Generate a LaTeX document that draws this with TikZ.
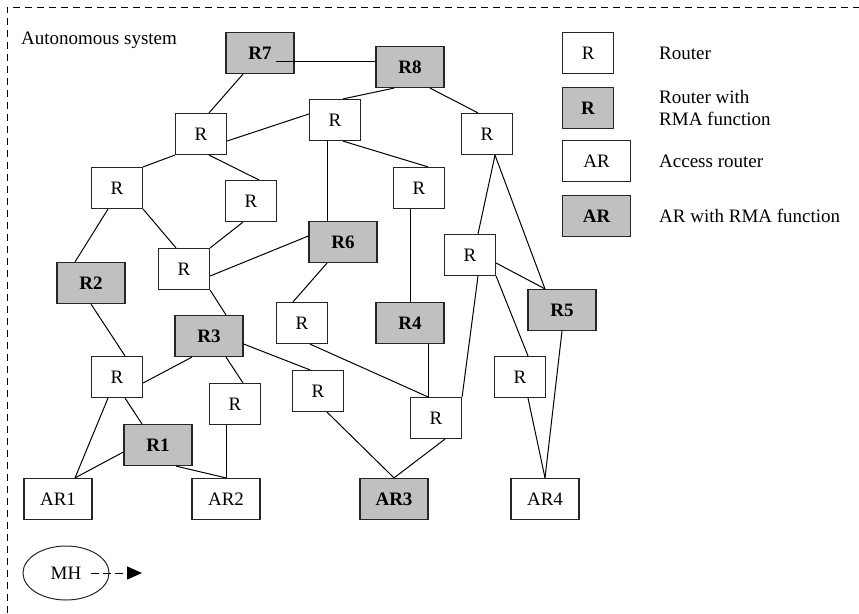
\documentclass[tikz,border=0pt]{standalone}
\usepackage{fontspec}
\setmainfont{Liberation Serif}
\usetikzlibrary{arrows.meta,shapes.geometric}
\definecolor{rmagray}{RGB}{192,192,192}
\tikzset{
  rbox/.style={draw=black!85, line width=1.2pt, fill=white, inner sep=0pt,
    minimum width=51pt, minimum height=41pt},
  rmabox/.style={rbox, fill=rmagray, minimum width=68pt, font=\bfseries},
  arbox/.style={rbox, minimum width=68pt},
  lrmabox/.style={rmabox, minimum width=51pt},
  link/.style={line width=1pt},
}
\begin{document}
\fontsize{19}{22}\selectfont
\begin{tikzpicture}[x=1pt, y=-1pt]
    \useasboundingbox (0,0) rectangle (859,613);
    % Border of the autonomous system
    \draw[dash pattern=on 7pt off 5pt, line width=0.8pt] (7,613) -- (7,7) -- (859,7);
    \node[anchor=west, inner sep=0pt] (title) at (21,40) {Autonomous system};
    % Routers with RMA function
    \node[rmabox] (r7) at (260,53) {R7};
    \node[rmabox] (r8) at (410,67) {R8};
    \node[rmabox] (r6) at (343,242) {R6};
    \node[rmabox] (r2) at (91,283) {R2};
    \node[rmabox] (r5) at (562,310) {R5};
    \node[rmabox] (r3) at (209,336) {R3};
    \node[rmabox] (r4) at (410,323) {R4};
    \node[rmabox] (r1) at (158,445) {R1};
    % Plain routers
    \node[rbox] (ra) at (201,134) {R};
    \node[rbox] (rb) at (335,120) {R};
    \node[rbox] (rc) at (117,188) {R};
    \node[rbox] (rd) at (251,201) {R};
    \node[rbox] (re) at (419,188) {R};
    \node[rbox] (rf) at (184,269) {R};
    \node[rbox] (rg) at (487,134) {R};
    \node[rbox] (rh) at (470,255) {R};
    \node[rbox] (ri) at (117,377) {R};
    \node[rbox] (rj) at (302,323) {R};
    \node[rbox] (rk) at (235,404) {R};
    \node[rbox] (rl) at (318,391) {R};
    \node[rbox] (rm) at (436,418) {R};
    \node[rbox] (rn) at (520,377) {R};
    % Access routers
    \node[arbox] (ar1) at (58,499) {AR1};
    \node[arbox] (ar2) at (226,499) {AR2};
    \node[rmabox] (ar3) at (394,499) {AR3};
    \node[arbox] (ar4) at (545,499) {AR4};
    % Links
    \draw[link] ([xshift=16pt,yshift=-8pt]r7.center) -- ([yshift=6pt]r8.west);
    \draw[link] ([xshift=-17pt]r7.south) -- ([xshift=8pt]ra.north);
    \draw[link] ([xshift=-16pt]r8.south) -- ([xshift=8pt]rb.north);
    \draw[link] ([xshift=20pt]r8.south) -- ([xshift=-9pt]rg.north);
    \draw[link] ([yshift=-7pt]ra.east) -- ([yshift=6pt]rb.west);
    \draw[link] (ra.south west) -- (rc.north east);
    \draw[link] ([xshift=8pt]ra.south) -- ([xshift=8pt]rd.north);
    \draw[link] ([xshift=-8pt]rb.south) -- ([xshift=-8pt]rb.south |- r6.north);
    \draw[link] ([xshift=8pt]rb.south) -- ([xshift=9pt]re.north);
    \draw[link] ([xshift=-9pt]rc.south) -- ([xshift=-16pt]r2.north);
    \draw[link] (rc.south east) -- ([xshift=-8pt]rf.north);
    \draw[link] ([xshift=-8pt]rd.south) -- (rf.north east);
    \draw[link] ([yshift=-7pt]rf.east) -- ([yshift=6pt]r6.west);
    \draw[link] ([xshift=-16pt]r6.south) -- ([xshift=-9pt]rj.north);
    \draw[link] ([xshift=-9pt]re.south) -- (r4.north);
    \draw[link] (rf.south east) -- ([xshift=17pt]r3.north);
    \draw[link] (r2.south) -- ([xshift=8pt]ri.north);
    \draw[link] ([xshift=-17pt]r3.south) -- ([yshift=-6pt]ri.east);
    \draw[link] ([xshift=17pt]r3.south) -- ([xshift=8pt]rk.north);
    \draw[link] ([yshift=-8pt]r3.east) -- ([xshift=-8pt]rl.north);
    \draw[link] ([xshift=8pt]rj.south) -- ([xshift=-8pt]rm.north);
    \draw[link] ([xshift=18pt]r4.south) -- ([xshift=-8pt]rm.north);
    \draw[link] ([xshift=-9pt]ri.south) -- ([xshift=17pt]ar1.north);
    \draw[link] ([xshift=8pt]ri.south) -- ([xshift=-16pt]r1.north);
    \draw[link] ([yshift=-7pt]r1.west) -- ([xshift=17pt]ar1.north);
    \draw[link] ([xshift=18pt]r1.south) -- (ar2.north);
    \draw[link] ([xshift=-9pt]rk.south) -- (ar2.north);
    \draw[link] ([xshift=9pt]rl.south) -- (ar3.north);
    \draw[link] ([xshift=9pt]rm.south) -- (ar3.north);
    \draw[link] (rm.north east) -- ([xshift=8pt]rh.south);
    \draw[link] ([xshift=8pt]rg.south) -- ([xshift=8pt]rh.north);
    \draw[link] ([xshift=8pt]rg.south) -- ([xshift=-17pt]r5.north);
    \draw[link] ([yshift=-8pt]rh.east) -- ([xshift=-17pt]r5.north);
    \draw[link] (rh.south east) -- ([xshift=8pt]rn.north);
    \draw[link] (r5.south) -- (ar4.north);
    \draw[link] ([xshift=8pt]rn.south) -- (ar4.north);
    % Mobile host
    \node[draw=black!85, ellipse, line width=1pt, inner sep=0pt,
      minimum width=86pt, minimum height=54pt] (mh) at (66,573) {MH};
    \coordinate (mhto) at (142,573);
    \draw[link, dash pattern=on 8pt off 4pt, -{Triangle[length=15pt,width=13pt]}]
      ([xshift=25pt]mh.center) -- (mhto);
    % Legend
    \foreach \n/\st/\lbl/\y/\txt in {lr/rbox/R/53/Router,
        lrma/lrmabox/R/108/{Router with\\RMA function},
        lar/arbox/AR/161/{Access router},
        larma/rmabox/AR/216/{AR with RMA function}}
      {
        \node[\st, anchor=west] (\n) at (562,\y) {\lbl};
        \node[anchor=west, align=left, inner sep=0pt] (\n txt) at (659,\y) {\txt};
      }
\end{tikzpicture}
\end{document}
